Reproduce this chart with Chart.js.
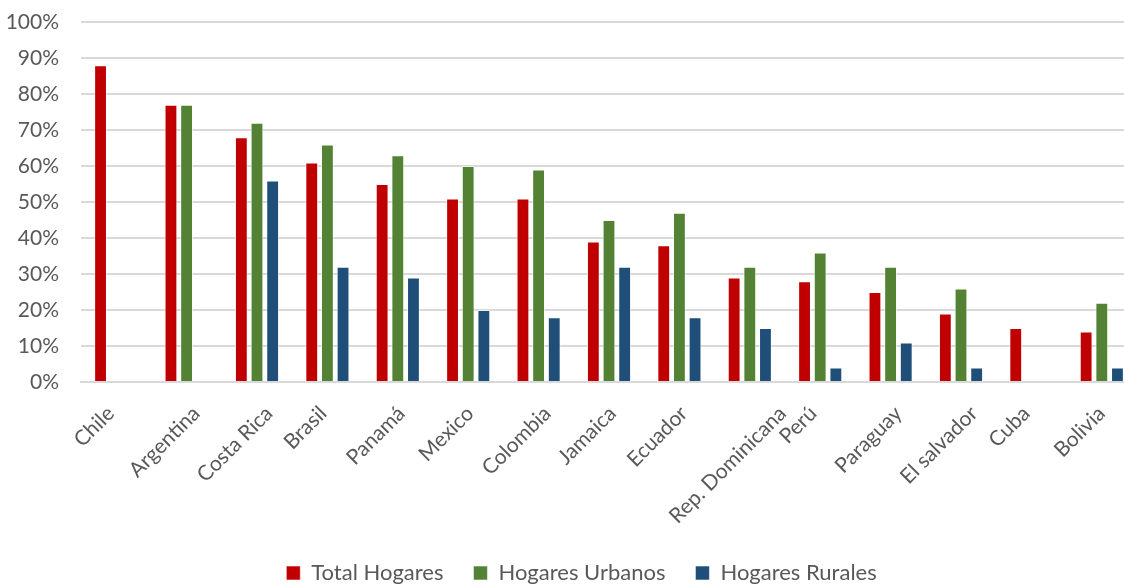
<!DOCTYPE html>
<html>
<head>
<meta charset="utf-8">
<script src="https://cdn.jsdelivr.net/npm/chart.js@4/dist/chart.umd.min.js"></script>
<style>
html,body{margin:0;padding:0;background:#fff;overflow:hidden;}
#wrap{position:relative;width:1140px;height:586px;}
</style>
</head>
<body>
<div id="wrap"><canvas id="c"></canvas></div>
<script>
const categories = ["Chile","Argentina","Costa Rica","Brasil","Panamá","Mexico","Colombia","Jamaica","Ecuador","Rep. Dominicana","Perú","Paraguay","El salvador","Cuba","Bolivia"];
const totalHogares = [88,77,68,61,55,51,51,39,38,29,28,25,19,15,14];
const hogaresUrbanos = [null,77,72,66,63,60,59,45,47,32,36,32,26,null,22];
const hogaresRurales = [null,null,56,32,29,20,18,32,18,15,4,11,4,null,4];
const seriesNames = ["Total Hogares","Hogares Urbanos","Hogares Rurales"];
const yTicks = [0,10,20,30,40,50,60,70,80,90,100];

const FONT = "Lato, 'Open Sans', sans-serif";
const TXT = "#595959";
const AXIS_SIZE = 21;
const mk = (label, data, color) => ({
  label, data, backgroundColor: color,
  borderColor: "rgba(255,255,255,0.55)", borderWidth: 1,
  categoryPercentage: 0.667, barPercentage: 0.82
});

// Excel-style rotated category labels: tops aligned, centred by their horizontal projection
const xLabelPlugin = {
  id: "xLabels",
  afterLayout(chart) {
    // nudge the legend to the right like in the original
    const lg = chart.legend;
    if (lg) { lg.left += 13; lg.right += 13; }
  },
  afterDraw(chart) {
    const xs = chart.scales.x, ctx = chart.ctx;
    ctx.save();
    ctx.font = AXIS_SIZE + "px " + FONT;
    ctx.fillStyle = TXT;
    ctx.textAlign = "right";
    ctx.textBaseline = "middle";
    categories.forEach((lab, i) => {
      const cx = xs.getPixelForTick(i);
      const w = ctx.measureText(lab).width;
      const ex = cx - 22 + 0.3536 * w;
      const ey = chart.chartArea.bottom + 28;
      ctx.save();
      ctx.translate(ex, ey);
      ctx.rotate(-Math.PI / 4);
      ctx.fillText(lab, 0, 0);
      ctx.restore();
    });
    ctx.restore();
  }
};

new Chart(document.getElementById("c"), {
  type: "bar",
  data: {
    labels: categories,
    datasets: [
      mk(seriesNames[0], totalHogares, "#C00000"),
      mk(seriesNames[1], hogaresUrbanos, "#548235"),
      mk(seriesNames[2], hogaresRurales, "#1F4E79")
    ]
  },
  plugins: [xLabelPlugin],
  options: {
    responsive: true, maintainAspectRatio: false, animation: false,
    layout: { padding: { top: 22, right: 3, left: 0, bottom: -8 } },
    plugins: {
      tooltip: { enabled: false },
      legend: {
        position: "bottom",
        labels: { font: { family: FONT, size: 22 }, color: TXT, boxWidth: 14, boxHeight: 14, padding: 30 }
      }
    },
    scales: {
      x: {
        grid: { display: false },
        border: { color: "#d9d9d9", width: 2 },
        ticks: { display: false },
        afterFit: s => { s.height = 150; s.paddingTop = 0; s.paddingLeft = 0; s.paddingRight = 0; }
      },
      y: {
        min: 0, max: 100,
        afterBuildTicks: s => { s.ticks = yTicks.map(v => ({ value: v })); },
        grid: { color: "#d9d9d9", lineWidth: 2, drawTicks: false },
        border: { display: false },
        ticks: { font: { family: FONT, size: AXIS_SIZE }, color: TXT, padding: 22, callback: v => v + "%" },
        afterFit: s => { s.width = 81; s.paddingTop = 0; s.paddingBottom = 0; }
      }
    }
  }
});
</script>
</body>
</html>
